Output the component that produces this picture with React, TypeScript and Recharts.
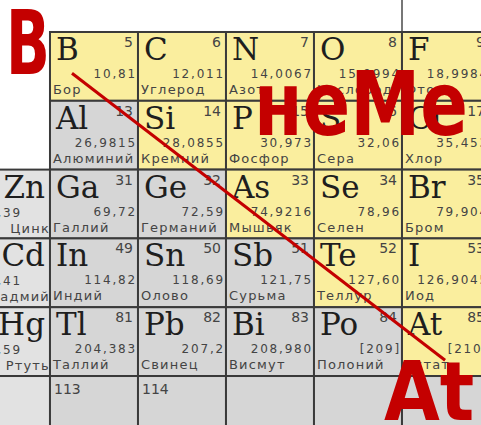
import React from "react";
import { ScatterChart, Scatter, XAxis, YAxis } from "recharts";

// cell grid: column -1 is the cut-off d-block column, row 5 is the empty bottom row
const cols = [0, 1, 2, 3, 4, 0, 1, 2, 3, 4, -1, 0, 1, 2, 3, 4, -1, 0, 1, 2, 3, 4, -1, 0, 1, 2, 3, 4, -1, 0, 1, 2, 3, 4];
const rows = [0, 0, 0, 0, 0, 1, 1, 1, 1, 1, 2, 2, 2, 2, 2, 2, 3, 3, 3, 3, 3, 3, 4, 4, 4, 4, 4, 4, 5, 5, 5, 5, 5, 5];
const symbols = [
  "B", "C", "N", "O", "F",
  "Al", "Si", "P", "S", "Cl",
  "Zn", "Ga", "Ge", "As", "Se", "Br",
  "Cd", "In", "Sn", "Sb", "Te", "I",
  "Hg", "Tl", "Pb", "Bi", "Po", "At",
  "", "", "", "", "", "",
];
const numbers = [
  "5", "6", "7", "8", "9",
  "13", "14", "15", "16", "17",
  "30", "31", "32", "33", "34", "35",
  "48", "49", "50", "51", "52", "53",
  "80", "81", "82", "83", "84", "85",
  "", "113", "114", "", "", "",
];
const masses = [
  "10,81", "12,011", "14,0067", "15,9994", "18,9984",
  "26,9815", "28,0855", "30,973", "32,06", "35,453",
  "65,39", "69,72", "72,59", "74,9216", "78,96", "79,904",
  "112,41", "114,82", "118,69", "121,75", "127,60", "126,9045",
  "200,59", "204,383", "207,2", "208,980", "[209]", "[210]",
  "", "", "", "", "", "",
];
const names = [
  "Бор", "Углерод", "Азот", "Кислород", "Фтор",
  "Алюминий", "Кремний", "Фосфор", "Сера", "Хлор",
  "Цинк", "Галлий", "Германий", "Мышьяк", "Селен", "Бром",
  "Кадмий", "Индий", "Олово", "Сурьма", "Теллур", "Иод",
  "Ртуть", "Таллий", "Свинец", "Висмут", "Полоний", "Астат",
  "", "", "", "", "", "",
];
// true = highlighted (non-metal) cell
const nonMetal = [
  true, true, true, true, true,
  false, true, true, true, true,
  false, false, false, true, true, true,
  false, false, false, false, true, true,
  false, false, false, false, false, true,
  false, false, false, false, false, false,
];

// red hand-drawn line from B to At, in grid units
const arrowCols = [-0.25, 3.99];
const arrowRows = [0.1, 4.27];
// thin rule above the table between O and F
const ruleCols = [3.5, 3.5];
const ruleRows = [-0.97, -0.5];
// red handwritten labels
const noteTexts = ["B", "неМе", "At"];
const noteCols = [-1.0, 1.818, 3.295];
const noteRows = [0.11, 0.997, 5.14];

const cells = symbols.map((s, i) => ({
  col: cols[i],
  row: rows[i],
  symbol: s,
  number: numbers[i],
  mass: masses[i],
  name: names[i],
  nonMetal: nonMetal[i],
}));
const arrow = arrowCols.map((c, i) => ({ col: c, row: arrowRows[i] }));
const rule = ruleCols.map((c, i) => ({ col: c, row: ruleRows[i] }));
const notes = noteTexts.map((t, i) => ({ col: noteCols[i], row: noteRows[i], text: t }));

const W = 481;
const H = 425;
const CELL_W = 88;
const CELL_H = 68.8;
const RED = "#C40000";
const SANS = "DejaVu Sans, sans-serif";
const SERIF = "DejaVu Serif, serif";
const NOTE_SCALE: Record<string, [number, number, number]> = {
  B: [64, 0.9, 1.4],
  "неМе": [89, 0.79, 1],
  At: [82, 0.88, 1],
};

function ElementCell(props: any) {
  const { cx, cy, payload } = props;
  const L = cx - CELL_W / 2;
  const T = cy - CELL_H / 2;
  const R = L + CELL_W;
  const side = payload.col === -1;
  const fill = payload.nonMetal ? "#FAEE9E" : side ? "#E2E2E2" : "#D6D6D6";
  const small = { fontFamily: SANS, fill: "#444" };

  return (
    <g>
      <rect x={L} y={T} width={CELL_W} height={CELL_H} fill={fill} stroke="#3a3a3a" strokeWidth={2} />
      {side ? (
        <>
          <text x={R - 5} y={T + 28} textAnchor="end" fontFamily={SERIF} fontSize={31} fill="#1e1e1e">
            {payload.symbol}
          </text>
          <text x={L + 6} y={T + 15} fontSize={14} {...small}>
            {payload.number}
          </text>
          <text x={L + 60} y={T + 47} textAnchor="end" fontSize={12} letterSpacing={1.8} {...small}>
            {payload.mass}
          </text>
          <text x={R} y={T + 63} textAnchor="end" fontSize={13} letterSpacing={1.2} {...small}>
            {payload.name}
          </text>
        </>
      ) : (
        <>
          <text x={L + 6} y={T + 28} fontFamily={SERIF} fontSize={31} fill="#1e1e1e">
            {payload.symbol}
          </text>
          <text
            x={payload.symbol ? R - 5 : L + 4}
            y={payload.symbol ? T + 15 : T + 18}
            textAnchor={payload.symbol ? "end" : "start"}
            fontSize={14}
            {...small}
          >
            {payload.number}
          </text>
          <text x={R - 1} y={T + 46} textAnchor="end" fontSize={12} letterSpacing={1.8} {...small}>
            {payload.mass}
          </text>
          <text x={L + 3} y={T + 62} fontSize={13} letterSpacing={1.2} {...small}>
            {payload.name}
          </text>
        </>
      )}
    </g>
  );
}

function Note(props: any) {
  const { cx, cy, payload } = props;
  const [size, sx, sy] = NOTE_SCALE[payload.text];
  return (
    <text
      transform={`translate(${cx},${cy}) scale(${sx},${sy})`}
      fontFamily={SANS}
      fontWeight={700}
      fontSize={size}
      fill={RED}
    >
      {payload.text}
    </text>
  );
}

const Nothing = () => <g />;

export default function App() {
  return (
    <div style={{ position: "absolute", left: 0, top: 0, width: W, height: H, background: "#fff" }}>
      <ScatterChart width={W} height={H} margin={{ top: 0, right: 0, bottom: 0, left: 0 }}>
        <XAxis type="number" dataKey="col" domain={[-1.068, 4.398]} hide allowDataOverflow />
        <YAxis type="number" dataKey="row" domain={[-0.965, 5.212]} reversed hide allowDataOverflow />
        <Scatter data={rule} shape={Nothing} line={{ stroke: "#777", strokeWidth: 2 }} isAnimationActive={false} />
        <Scatter data={cells} shape={ElementCell} isAnimationActive={false} />
        <Scatter data={arrow} shape={Nothing} line={{ stroke: RED, strokeWidth: 3 }} isAnimationActive={false} />
        <Scatter data={notes} shape={Note} isAnimationActive={false} />
      </ScatterChart>
    </div>
  );
}
